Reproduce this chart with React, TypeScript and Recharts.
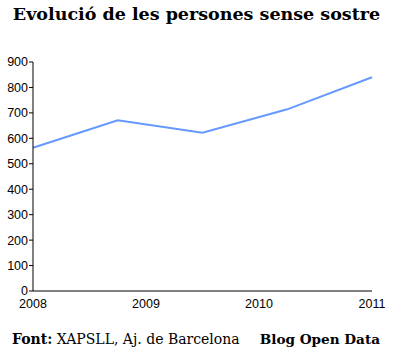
import React from 'react';
import { LineChart, Line, XAxis, YAxis } from 'recharts';

const years = [2008, 2008.75, 2009.5, 2010.25, 2011];
const persons = [563, 671, 622, 714, 840];
const xTicks = [2008, 2009, 2010, 2011];
const yTicks = [0, 100, 200, 300, 400, 500, 600, 700, 800, 900];

const data = years.map((y, i) => ({ year: y, value: persons[i] }));

const tickStyle = { fontFamily: '"Liberation Sans", Arial, sans-serif', fontSize: 12.5, fill: '#000' };

export default function App() {
  return (
    <div style={{ position: 'absolute', left: 0, top: 0, width: 393, height: 360, background: '#fff' }}>
      <div style={{ position: 'absolute', left: 0, top: 4, width: 393, textAlign: 'center', fontFamily: '"DejaVu Serif", serif', fontWeight: 'bold', fontSize: 17.5, color: '#000', whiteSpace: 'nowrap' }}>
        Evolució de les persones sense sostre
      </div>
      <LineChart width={393} height={360} data={data} margin={{ top: 62, right: 21, bottom: 49, left: 0 }}>
        <XAxis
          dataKey="year"
          type="number"
          domain={[2008, 2011]}
          ticks={xTicks}
          tickLine={false}
          axisLine={{ stroke: '#000' }}
          tick={tickStyle}
          tickMargin={2}
          height={20}
          interval={0}
        />
        <YAxis
          type="number"
          domain={[0, 900]}
          ticks={yTicks}
          tickLine={{ stroke: '#000' }}
          tickSize={4}
          tickMargin={1}
          axisLine={{ stroke: '#000' }}
          tick={tickStyle}
          width={33}
          interval={0}
        />
        <Line dataKey="value" stroke="#6699ff" strokeWidth={2} dot={false} isAnimationActive={false} />
      </LineChart>
      <div style={{ position: 'absolute', left: 12, top: 331, fontFamily: '"DejaVu Serif", serif', fontSize: 14, color: '#000', whiteSpace: 'nowrap' }}>
        <b>Font:</b> XAPSLL, Aj. de Barcelona
      </div>
      <div style={{ position: 'absolute', right: 13, top: 331, fontFamily: '"DejaVu Serif", serif', fontSize: 13.6, fontWeight: 'bold', color: '#000', whiteSpace: 'nowrap' }}>
        Blog Open Data
      </div>
    </div>
  );
}
